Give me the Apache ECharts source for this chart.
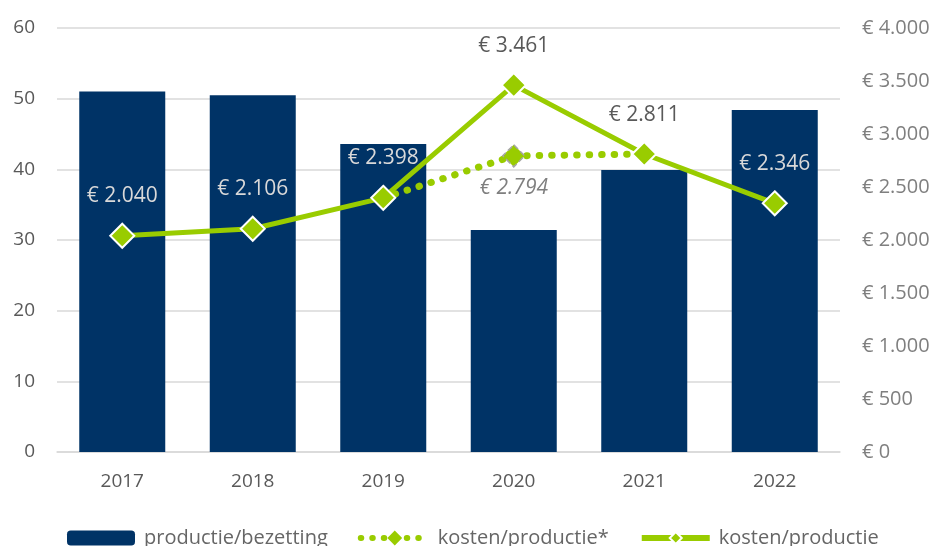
<!DOCTYPE html>
<html>
<head>
<meta charset="utf-8">
<script src="https://cdn.jsdelivr.net/npm/echarts@6/dist/echarts.min.js"></script>
<style>
  html, body { margin: 0; padding: 0; background: #fff; }
  #chart { width: 938px; height: 546px; }
</style>
</head>
<body>
<div id="chart"></div>
<script type="text/javascript">
// data
var years = ['2017', '2018', '2019', '2020', '2021', '2022'];
var productie = [51.0, 50.5, 43.6, 31.4, 39.9, 48.4];
var kosten = [2040, 2106, 2398, 3461, 2811, 2346];
var kostenSter = [null, null, 2398, 2794, 2811, null];
// label colour per point: light on the bars, grey above
var labelKleur = ['#d9d9d9', '#d9d9d9', '#d9d9d9', '#595959', '#595959', '#d9d9d9'];

var groen = '#99cc00';
var blauw = '#003366';
var font = 'Open Sans';

function euro(v) {
	var s = String(Math.round(v));
	return '€ ' + s.replace(/\B(?=(\d{3})+(?!\d))/g, '.');
}

var chart = echarts.init(document.getElementById('chart'));

var solidData = kosten.map(function (v, i) {
	return { value: v, label: { color: labelKleur[i] } };
});
var sterData = kostenSter.map(function (v, i) {
	if (v === null) return null;
	return { value: v, symbol: i === 3 ? 'diamond' : 'none' };
});

var option = {
	backgroundColor: '#ffffff',
	textStyle: { fontFamily: font },
	animation: false,
	grid: { left: 57, right: 98, top: 28, bottom: 94 },
	legend: {
		top: 528,
		left: 67,
		padding: 0,
		itemWidth: 68,
		itemHeight: 15,
		itemGap: 30,
		textStyle: { fontSize: 20, color: '#666666', fontFamily: font, padding: [0, 0, 0, 4] },
		data: [
			{ name: 'productie/bezetting' },
			{ name: 'kosten/productie*', lineStyle: { width: 6, type: [0.5, 11], cap: 'round', color: groen }, itemStyle: { borderColor: groen } },
			{ name: 'kosten/productie', lineStyle: { width: 6, color: groen } }
		]
	},
	xAxis: {
		type: 'category',
		data: years,
		axisLine: { lineStyle: { color: '#d9d9d9', width: 1.5 } },
		axisTick: { show: false },
		axisLabel: { color: '#595959', fontSize: 19, margin: 20 }
	},
	yAxis: [{
		type: 'value',
		min: 0, max: 60, interval: 10,
		axisLine: { show: false },
		axisTick: { show: false },
		splitLine: { lineStyle: { color: '#d9d9d9', width: 1.5 } },
		axisLabel: { color: '#595959', fontSize: 19, margin: 22 }
	}, {
		type: 'value',
		min: 0, max: 4000, interval: 500,
		axisLine: { show: false },
		axisTick: { show: false },
		splitLine: { show: false },
		axisLabel: { color: '#7f7f7f', fontSize: 20, margin: 22, align: 'left', formatter: euro }
	}],
	series: [{
		name: 'productie/bezetting',
		type: 'bar',
		data: productie,
		barWidth: 86,
		itemStyle: { color: blauw }
	}, {
		name: 'kosten/productie*',
		type: 'line',
		yAxisIndex: 1,
		data: sterData,
		symbol: 'diamond',
		symbolSize: 22,
		connectNulls: false,
		lineStyle: { color: groen, width: 7, type: [0.5, 12], cap: 'round' },
		itemStyle: { color: groen, borderColor: '#a6a6a6', borderWidth: 1.5, borderType: 'dashed' },
		label: {
			show: true,
			position: 'bottom',
			distance: 10,
			fontSize: 21,
			fontStyle: 'italic',
			color: '#7f7f7f',
			formatter: function (p) { return p.dataIndex === 3 ? euro(p.value) : ''; }
		}
	}, {
		name: 'kosten/productie',
		type: 'line',
		yAxisIndex: 1,
		data: solidData,
		symbol: 'diamond',
		symbolSize: 24,
		lineStyle: { color: groen, width: 5 },
		itemStyle: { color: groen, borderColor: '#ffffff', borderWidth: 2 },
		label: {
			show: true,
			position: 'top',
			distance: 16,
			fontSize: 21,
			formatter: function (p) { return euro(p.value); }
		}
	}]
};

chart.setOption(option);
</script>
</body>
</html>
